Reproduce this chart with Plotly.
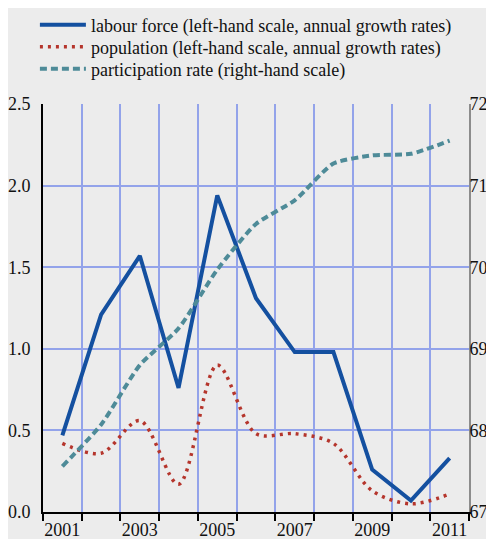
import plotly.graph_objects as go

years = list(range(2001, 2012))
year_labels = [str(y) if y % 2 == 1 else "" for y in years]

labour_force = [0.47, 1.21, 1.57, 0.76, 1.94, 1.31, 0.98, 0.98, 0.26, 0.07, 0.33]
population = [0.42, 0.36, 0.56, 0.17, 0.90, 0.48, 0.48, 0.42, 0.13, 0.05, 0.11]
participation = [67.56, 68.07, 68.80, 69.25, 69.97, 70.53, 70.82, 71.27, 71.37, 71.39, 71.55]

serif = "Liberation Serif, Times New Roman, Times, serif"

fig = go.Figure()

fig.add_trace(go.Scatter(
    x=years, y=labour_force, mode="lines", legend="legend",
    name="labour force (left-hand scale, annual growth rates)",
    line=dict(color="#1450a0", width=4)
))
fig.add_trace(go.Scatter(
    x=years, y=population, mode="lines", legend="legend2",
    name="population (left-hand scale, annual growth rates)",
    line=dict(color="#b5352c", width=3.5, dash="3px,5px", shape="spline", smoothing=0.9)
))
fig.add_trace(go.Scatter(
    x=years, y=participation, mode="lines", yaxis="y2", legend="legend3",
    name="participation rate (right-hand scale)",
    line=dict(color="#4e8b98", width=4, dash="7px,4px", shape="spline", smoothing=0.6)
))

# one legend per row so the rows can sit as tightly as in the original
leg = dict(x=-0.019, xanchor="left", yanchor="middle",
           bgcolor="rgba(0,0,0,0)", font=dict(size=18, family=serif), itemwidth=46)

# page body has an 8px margin, so the figure is sized to fill the rest of the window
fig.update_layout(
    width=486, height=531,
    margin=dict(l=35, r=25, t=96, b=27, autoexpand=False),
    paper_bgcolor="#ececec",
    plot_bgcolor="#ececec",
    font=dict(family=serif, size=18, color="#111111"),
    showlegend=True,
    legend=dict(leg, y=1.1936),
    legend2=dict(leg, y=1.1397),
    legend3=dict(leg, y=1.0858),
    xaxis=dict(
        range=[2000.5, 2011.5],
        tickmode="array", tickvals=years, ticktext=year_labels,
        ticks="", showgrid=False, tickangle=0,
        minor=dict(tick0=2000.5, dtick=1, ticks="outside", ticklen=7,
                   tickcolor="#000000", tickwidth=2,
                   showgrid=True, gridcolor="#93a3ea", gridwidth=1.5),
        showline=True, linecolor="#000000", linewidth=2,
        tickfont=dict(size=18, family=serif),
        zeroline=False,
    ),
    yaxis=dict(
        range=[0, 2.5], dtick=0.5, tickformat=".1f",
        showgrid=True, gridcolor="#93a3ea", gridwidth=1.5,
        showline=True, linecolor="#000000", linewidth=2,
        ticks="", zeroline=False, ticklabelstandoff=7,
        tickfont=dict(size=18, family=serif),
    ),
    yaxis2=dict(
        range=[67, 72], dtick=1, overlaying="y", side="right",
        showgrid=False, showline=True, linecolor="#8c8c8c", linewidth=2,
        ticks="", ticklen=0, zeroline=False, ticklabelstandoff=-5,
        tickfont=dict(size=18, family=serif),
    ),
)

fig.write_html("out.html")
